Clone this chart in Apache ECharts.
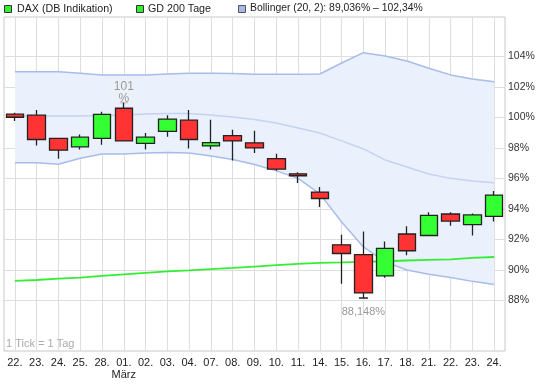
<!DOCTYPE html>
<html>
<head>
<meta charset="utf-8">
<script src="https://cdn.jsdelivr.net/npm/echarts@6/dist/echarts.min.js"></script>
<style>
html,body{margin:0;padding:0;background:#fff;}
#chart{width:547px;height:386px;}
</style>
</head>
<body>
<div id="chart"></div>
<script>
// Dates (Feb/March), index 5 starts "März"
const dayLabels = ['22.','23.','24.','25.','28.','01.','02.','03.','04.','07.','08.','09.','10.','11.','14.','15.','16.','17.','18.','21.','22.','23.','24.'];
const monthLabels = {5: 'März'};
// Candles in % : open, close, low, high
const opens  = [100.21,100.15,98.62,98.07,98.62,100.60,98.30,99.08,99.82,98.13,98.80,98.33,97.30,96.30,95.10,91.64,91.00,89.60,92.35,92.25,93.66,92.96,93.50];
const closes = [100.01,98.55,97.85,98.70,100.20,98.46,98.70,99.89,98.55,98.35,98.46,98.00,96.60,96.17,94.68,91.07,88.48,91.40,91.25,93.57,93.20,93.60,94.90];
const lows   = [99.77,98.15,97.28,97.90,98.20,98.42,97.90,98.73,97.96,97.90,97.17,97.67,96.50,95.70,94.12,89.08,88.148,89.47,90.96,92.22,92.89,92.25,93.17];
const highs  = [100.31,100.48,98.65,98.88,100.37,100.97,98.98,100.15,100.48,99.85,99.19,99.12,97.62,96.40,95.43,92.30,92.52,91.86,92.85,93.77,93.77,93.70,95.17];
// GD 200 Tage
const gd200 = [89.27,89.33,89.42,89.49,89.60,89.70,89.80,89.89,89.96,90.04,90.12,90.21,90.30,90.39,90.45,90.48,90.52,90.56,90.61,90.65,90.68,90.78,90.84];
// Bollinger (20, 2)
const bbUpper  = [103.00,103.00,103.00,102.90,102.79,102.79,102.79,102.85,102.90,102.90,102.88,102.83,102.83,102.83,102.85,103.57,104.25,104.03,103.70,103.23,102.79,102.52,102.34];
const bbMiddle = [100.10,100.10,100.10,100.10,100.13,100.16,100.23,100.26,100.26,100.16,100.03,99.87,99.64,99.31,98.98,98.46,97.93,97.21,96.75,96.29,96.00,95.83,95.72];
const bbLower  = [97.03,97.03,96.93,97.32,97.60,97.60,97.67,97.69,97.67,97.47,97.24,96.91,96.49,96.00,94.98,93.14,91.50,90.52,89.99,89.70,89.50,89.24,89.036];
const yTicks = [88,90,92,94,96,98,100,102,104];
const maxLabel = '101\n%';
const minLabel = '88,148%';

const FONT = '"Liberation Sans", Arial, sans-serif';
const candleData = opens.map((o,i)=>[o, closes[i], lows[i], highs[i]]);
const bandDiff = bbUpper.map((u,i)=> +(u - bbLower[i]).toFixed(4));
const cats = dayLabels.map((d,i)=> String(i));
const maxIdx = highs.indexOf(Math.max(...highs));
const minIdx = lows.indexOf(Math.min(...lows));

const chart = echarts.init(document.getElementById('chart'), null, {renderer:'canvas'});
chart.setOption({
  animation: false,
  backgroundColor: '#ffffff',
  textStyle: {fontFamily: FONT},
  grid: {left: 4, right: 42, top: 17, bottom: 35, show: true, borderColor: '#c8c8c8', borderWidth: 1, backgroundColor: '#fff'},
  xAxis: {
    type: 'category', data: cats, boundaryGap: true,
    axisLine: {show: false}, axisTick: {show: false},
    axisLabel: {interval: 0, margin: 6, color: '#222', fontSize: 11, fontFamily: FONT, lineHeight: 12,
      formatter: (v, i) => dayLabels[i] + (monthLabels[i] ? '\n' + monthLabels[i] : '')},
    splitLine: {show: true, interval: 0, alignWithLabel: true, lineStyle: {color: '#dedede', width: 1}}
  },
  yAxis: {
    type: 'value', position: 'right', min: 84.67, max: 106.59, scale: true,
    axisLine: {show: false},
    axisTick: {show: false, customValues: yTicks},
    axisLabel: {customValues: yTicks, formatter: v => v + '%', margin: 3, color: '#333', fontSize: 10.5, fontFamily: FONT},
    splitLine: {show: true, lineStyle: {color: '#dedede', width: 1}}
  },
  graphic: [
    {type:'rect', shape:{x:4.5,y:5.5,width:7,height:7}, style:{fill:'#33ee33', stroke:'#333', lineWidth:1}},
    {type:'text', x:17, y:3.5, style:{text:'DAX (DB Indikation)', fill:'#222', font:'10.7px ' + FONT}},
    {type:'rect', shape:{x:136.5,y:5.5,width:7,height:7}, style:{fill:'#33ee33', stroke:'#333', lineWidth:1}},
    {type:'text', x:148, y:3.5, style:{text:'GD 200 Tage', fill:'#222', font:'10.7px ' + FONT}},
    {type:'rect', shape:{x:238.5,y:5.5,width:7,height:7}, style:{fill:'#a6b9e4', stroke:'#555', lineWidth:1}},
    {type:'text', x:250, y:3.5, style:{text:'Bollinger (20, 2): 89,036% \u2013 102,34%', fill:'#222', font:'10.4px ' + FONT}},
    {type:'text', x:6, y:338, z:10, style:{text:'1 Tick = 1 Tag', fill:'#aaa', font:'11px ' + FONT}}
  ],
  series: [
    {name:'bbLower', type:'line', data: bbLower, stack:'bb', symbol:'none', z:1,
      lineStyle:{color:'#a7bce9', width:1.5}},
    {name:'bbBand', type:'line', data: bandDiff, stack:'bb', symbol:'none', z:1,
      lineStyle:{color:'#a7bce9', width:1.5}, areaStyle:{color:'#eaf1fc', opacity:1}},
    {name:'bbMiddle', type:'line', data: bbMiddle, symbol:'none', z:2,
      lineStyle:{color:'#c2d3f3', width:1.5}},
    {name:'GD 200 Tage', type:'line', data: gd200, symbol:'none', z:3,
      lineStyle:{color:'#33ee33', width:1.8}},
    {name:'DAX (DB Indikation)', type:'candlestick', data: candleData, barWidth: 18, z:5,
      itemStyle:{color:'#33ff33', color0:'#ff3333', borderColor:'#222', borderColor0:'#222', borderColorDoji:'#222', borderWidth:1.3},
      markPoint:{
        silent:true,
        data:[
          {coord:[maxIdx, highs[maxIdx]], symbol:'rect', symbolSize:[8,1.5], itemStyle:{color:'#555'},
            label:{show:true, position:'top', distance:0, offset:[0,4], formatter: maxLabel, color:'#999', fontSize:12, lineHeight:12,
              fontFamily: FONT, backgroundColor:'rgba(236,240,248,0.75)', padding:[2,4,1,4]}},
          {coord:[minIdx, lows[minIdx]], symbol:'rect', symbolSize:[9,1.5], itemStyle:{color:'#222'},
            label:{show:true, position:'bottom', distance:8, formatter: minLabel, color:'#999', fontSize:11, fontFamily: FONT}}
        ]
      }
    }
  ]
});
</script>
</body>
</html>
